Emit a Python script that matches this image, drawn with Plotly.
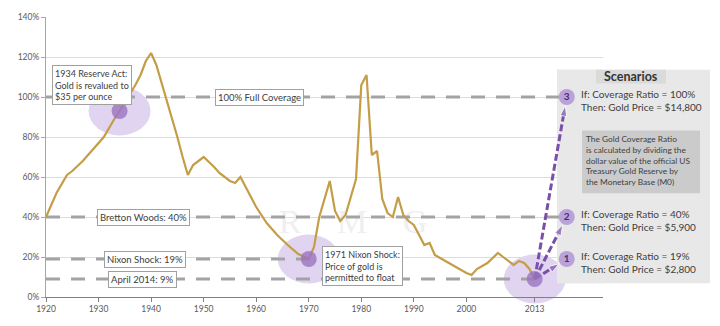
import plotly.graph_objects as go

# Gold coverage ratio: official US gold reserve value / monetary base (%)
years = [1920, 1922, 1924, 1925, 1927, 1929, 1931, 1933, 1934, 1935, 1937, 1938, 1939, 1940,
         1941, 1942, 1943, 1944, 1945, 1946, 1947, 1948, 1950, 1952, 1953, 1955, 1956, 1957,
         1958, 1960, 1962, 1964, 1966, 1968, 1970, 1971, 1972, 1974, 1975, 1976, 1977, 1979,
         1980, 1981, 1982, 1983, 1984, 1985, 1986, 1987, 1988, 1989, 1990, 1991, 1992, 1993,
         1994, 1996, 1998, 2000, 2001, 2002, 2004, 2006, 2007, 2009, 2010, 2011, 2012, 2013]
coverage = [40, 52, 61, 63, 68, 74, 80, 89, 93, 97, 106, 111, 118, 122,
            116, 107, 99, 90, 80, 70, 61, 66, 70, 65, 62, 58, 57, 60,
            55, 45, 37, 31, 26, 21.5, 19, 25, 40, 58, 43, 38, 41, 59,
            106, 111, 71, 73, 49, 42, 40, 50, 41, 38, 36, 31, 26, 27,
            21, 18, 15, 12, 11, 14, 17, 22, 20, 16, 18, 17, 14, 9]

# Reference coverage levels
ref_labels = ["100% Full Coverage", "Bretton Woods: 40%", "Nixon Shock: 19%", "April 2014: 9%"]
ref_values = [100, 40, 19, 9]
ref_end_years = [2019.1, 2019.1, 1969.8, 2013]
ref_label_years = [1960.7, 1938.6, 1938.8, 1938.3]

# Highlighted events
event_years = [1934, 1970, 2013]
event_values = [93, 19, 9]
event_notes = ["1934 Reserve Act:<br>Gold is revalued to<br>$35 per ounce",
               "1971 Nixon Shock:<br>Price of gold is<br>permitted to float"]
event_note_years = [1921.1, 1972.5]
event_note_tops = [116, 25.5]

# Scenarios
scenario_ids = ["1", "2", "3"]
scenario_ratios = [19, 40, 100]
scenario_prices = ["$2,800", "$5,900", "$14,800"]
scenario_x = 2019.1

# Tick labels
x_ticks = [1920, 1930, 1940, 1950, 1960, 1970, 1980, 1990, 2000, 2013]
x_ticktext = [str(v) for v in x_ticks]
y_ticks = [0, 20, 40, 60, 80, 100, 120, 140]
y_ticktext = ["%d%%" % v for v in y_ticks]

X_RANGE = [1920, 2026]
Y_RANGE = [0, 140]
W, H = 720, 326
ML, MR, MT, MB = 46, 117, 12, 28
PW, PH = W - ML - MR, H - MT - MB

GOLD = "#c49d47"
DASH_GREY = "#a3a3a3"
PURPLE = "#7a4fa8"
TEXT = "#404040"
FONT = "Lato"


def x2px(x):
    return ML + (x - X_RANGE[0]) / (X_RANGE[1] - X_RANGE[0]) * PW


def y2px(y):
    return H - MB - (y - Y_RANGE[0]) / (Y_RANGE[1] - Y_RANGE[0]) * PH


def px2x(px):
    return X_RANGE[0] + (px - ML) / PW * (X_RANGE[1] - X_RANGE[0])


def px2y(py):
    return Y_RANGE[0] + (H - MB - py) / PH * (Y_RANGE[1] - Y_RANGE[0])


def pxpaper_x(px):
    return (px - ML) / PW


def pxpaper_y(py):
    return (H - MB - py) / PH


fig = go.Figure()

# faint watermark letters
fig.add_trace(go.Scatter(
    x=[px2x(290), px2x(352), px2x(415)], y=[px2y(224)] * 3, mode="text",
    text=["R", "M", "G"], textfont=dict(family="Liberation Serif", size=34, color="#efefef"),
    hoverinfo="skip", showlegend=False))

# dashed reference levels
for val, end in zip(ref_values, ref_end_years):
    fig.add_trace(go.Scatter(
        x=[X_RANGE[0], end], y=[val, val], mode="lines",
        line=dict(color=DASH_GREY, width=3.2, dash="14px,11px"),
        hoverinfo="skip", showlegend=False))

# coverage ratio line
fig.add_trace(go.Scatter(
    x=years, y=coverage, mode="lines",
    line=dict(color=GOLD, width=2.2), showlegend=False))

# scenario arrows from the latest reading
sx, sy = x2px(event_years[-1]), y2px(event_values[-1])
for ratio in scenario_ratios:
    cx, cy = x2px(scenario_x), y2px(ratio)
    dx, dy = cx - sx, cy - sy
    d = (dx * dx + dy * dy) ** 0.5
    tx, ty = cx - dx / d * 9, cy - dy / d * 9
    fig.add_trace(go.Scatter(
        x=[event_years[-1], px2x(tx)], y=[event_values[-1], px2y(ty)],
        mode="lines+markers",
        line=dict(color=PURPLE, width=3, dash="7px,3px"),
        marker=dict(symbol=["circle", "arrow"], size=[0, 11], color=PURPLE,
                    angleref="previous"),
        cliponaxis=False, hoverinfo="skip", showlegend=False))

# event markers
fig.add_trace(go.Scatter(
    x=event_years, y=event_values, mode="markers",
    marker=dict(size=16, color="#9a74c2", opacity=0.8),
    cliponaxis=False, hoverinfo="skip", showlegend=False))

# numbered scenario markers
fig.add_trace(go.Scatter(
    x=[scenario_x] * 3, y=scenario_ratios, mode="markers+text",
    text=["<b>%s</b>" % s for s in scenario_ids], textposition="middle center",
    textfont=dict(family=FONT, size=10, color="#4b2c73"),
    marker=dict(size=16, color="#b9a2d8"),
    cliponaxis=False, hoverinfo="skip", showlegend=False))

shapes = []
# soft halos around events
for ex, ev in zip(event_years, event_values):
    cx, cy = x2px(ex), y2px(ev)
    shapes.append(dict(type="circle", xref="paper", yref="paper", layer="below",
                       x0=pxpaper_x(cx - 31), x1=pxpaper_x(cx + 31),
                       y0=pxpaper_y(cy + 25), y1=pxpaper_y(cy - 25),
                       fillcolor="#dccdee", opacity=0.85, line=dict(width=0)))

# scenarios panel (inside plot part drawn between grid and traces)
box_l, box_r, box_t, box_b = 557, 710, 66, 284
shapes.append(dict(type="rect", xref="paper", yref="paper", layer="below",
                   x0=pxpaper_x(box_l), x1=pxpaper_x(box_r),
                   y0=pxpaper_y(box_b), y1=pxpaper_y(box_t),
                   fillcolor="#e8e8e8", line=dict(width=0)))
shapes.append(dict(type="rect", xref="x", yref="y", layer="between",
                   x0=px2x(box_l), x1=X_RANGE[1], y0=px2y(box_b), y1=px2y(box_t),
                   fillcolor="#e8e8e8", line=dict(width=0)))
# title strip and definition box
shapes.append(dict(type="rect", xref="paper", yref="paper", layer="above",
                   x0=pxpaper_x(596), x1=pxpaper_x(666), y0=pxpaper_y(80), y1=pxpaper_y(66),
                   fillcolor="#dadada", line=dict(width=0)))
shapes.append(dict(type="rect", xref="paper", yref="paper", layer="above",
                   x0=pxpaper_x(582), x1=pxpaper_x(700), y0=pxpaper_y(192), y1=pxpaper_y(128),
                   fillcolor="#cbcbcb", line=dict(width=0)))

annotations = []
for lab, val, lx in zip(ref_labels, ref_values, ref_label_years):
    annotations.append(dict(x=lx, y=val, xref="x", yref="y", text=lab, showarrow=False,
                            xanchor="center", yanchor="middle",
                            font=dict(family=FONT, size=9.5, color=TEXT),
                            bgcolor="white", bordercolor="#a0a0a0", borderwidth=1, borderpad=2))
for note, nx, ny in zip(event_notes, event_note_years, event_note_tops):
    annotations.append(dict(x=nx, y=ny, xref="x", yref="y", text=note, showarrow=False,
                            xanchor="left", yanchor="top", align="left",
                            font=dict(family=FONT, size=9, color=TEXT),
                            bgcolor="white", bordercolor="#a0a0a0", borderwidth=1, borderpad=2))

annotations.append(dict(x=pxpaper_x(631), y=pxpaper_y(73), xref="paper", yref="paper",
                        xanchor="center", yanchor="middle",
                        text="<b>Scenarios</b>", showarrow=False,
                        font=dict(family=FONT, size=12.5, color="#333333")))
for ratio, price in zip(scenario_ratios, scenario_prices):
    annotations.append(dict(x=pxpaper_x(579), y=pxpaper_y(y2px(ratio) + 4),
                            xref="paper", yref="paper", xanchor="left", yanchor="middle",
                            align="left",
                            text="If: Coverage Ratio = %d%%<br>Then: Gold Price = %s" % (ratio, price),
                            showarrow=False, font=dict(family=FONT, size=10, color=TEXT)))
annotations.append(dict(x=pxpaper_x(584), y=pxpaper_y(159), xref="paper", yref="paper",
                        xanchor="left", yanchor="middle", align="left", showarrow=False,
                        text=("The Gold Coverage Ratio<br>is calculated by dividing the<br>"
                              "dollar value of the official US<br>Treasury Gold Reserve by<br>"
                              "the Monetary Base (M0)"),
                        font=dict(family=FONT, size=8.3, color=TEXT)))

fig.update_layout(
    width=W, height=H,
    margin=dict(l=ML, r=MR, t=MT, b=MB),
    paper_bgcolor="white", plot_bgcolor="white",
    font=dict(family=FONT, color="#595959"),
    shapes=shapes, annotations=annotations,
    showlegend=False,
)
fig.update_xaxes(range=X_RANGE, tickvals=x_ticks, ticktext=x_ticktext,
                 showgrid=False, zeroline=False, showline=True, linecolor="#808080",
                 linewidth=1, ticks="outside", ticklen=4, tickcolor="#808080",
                 tickfont=dict(family=FONT, size=8.5, color="#595959"))
fig.update_yaxes(range=Y_RANGE, tickvals=y_ticks, ticktext=y_ticktext,
                 showgrid=True, gridcolor="#dcdcdc", gridwidth=1, zeroline=False,
                 showline=True, linecolor="#a6a6a6", linewidth=1,
                 ticks="outside", ticklen=4, tickcolor="#a6a6a6",
                 tickfont=dict(family=FONT, size=8.5, color="#595959"))

fig.write_html("out.html")
